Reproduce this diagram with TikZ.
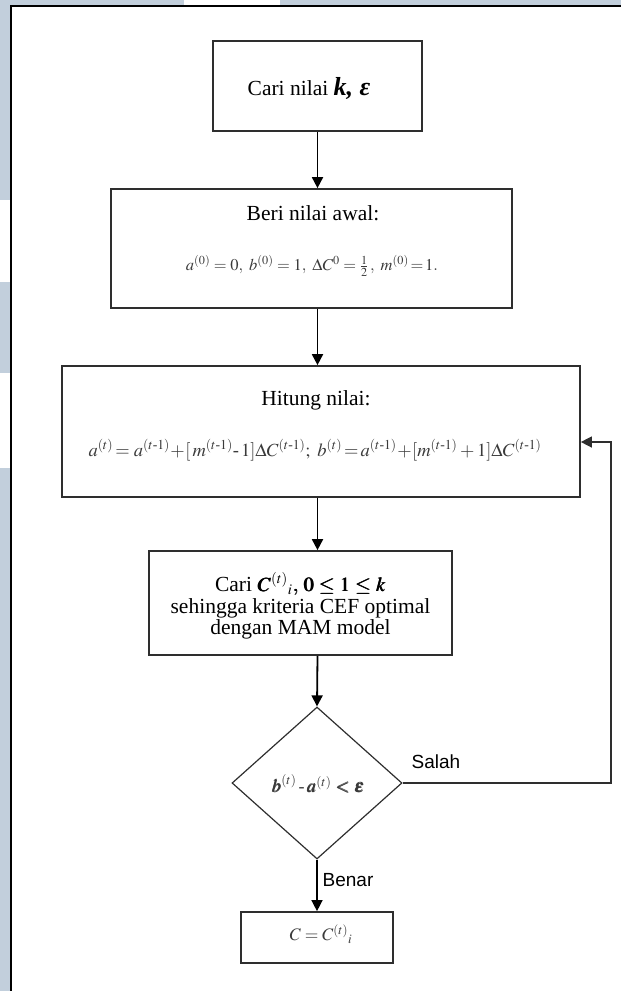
\documentclass[tikz,border=0pt]{standalone}
\usepackage{amsmath}
\usepackage{mathptmx}
\usepackage{bm}
\usepackage{fontspec}
\setmainfont{Liberation Serif}
\newfontfamily\sansf{Liberation Sans}
\usetikzlibrary{arrows.meta,shapes.geometric}
\definecolor{bgblue}{HTML}{C2CFDC}
\definecolor{boxline}{HTML}{2E2E2E}
\definecolor{formula}{HTML}{3A3A3A}
\tikzset{
  box/.style={draw=boxline, line width=1.7pt, rectangle, inner sep=0pt},
  arr/.style={draw=black, line width=1.8pt, -{Triangle[length=11pt,width=11pt]}},
  fbline/.style={draw=boxline, line width=1.4pt, -{Triangle[length=11pt,width=11pt]}},
  txt/.style={inner sep=0pt, font=\fontsize{21.5}{23}\selectfont, align=center},
  frm/.style={inner sep=0pt, text=formula, font=\fontsize{15}{17}\selectfont},
  lab/.style={inner sep=0pt, font=\sansf\fontsize{19}{21}\selectfont},
}
\begin{document}
\begin{tikzpicture}[x=1pt,y=-1pt]
\useasboundingbox (0,0) rectangle (621,991);
% background strips
\fill[bgblue] (0,0) rectangle (10,991);
\fill[bgblue] (0,0) rectangle (621,5);
\fill[white] (184,0) rectangle (280,5);
\fill[white] (0,200) rectangle (10,282);
\fill[white] (0,373) rectangle (10,468);
\draw[line width=1.8pt] (11,991) -- (11,6) -- (621,6);

% boxes
\node[box, minimum width=209pt, minimum height=90pt] (b1) at (317.5,86) {};
\node[txt] (t1) at (309,88) {Cari nilai {\fontsize{26}{26}\selectfont\bfseries\itshape k, ε}};

\node[box, minimum width=401pt, minimum height=119pt] (b2) at (311.5,248.5) {};
\node[txt] (t2a) at (313,213) {Beri nilai awal:};
\node[frm, font=\fontsize{16.5}{18}\selectfont] (t2b) at (312,266) {$a^{(0)} = 0,\ b^{(0)} = 1,\ \Delta C^{0} = \frac{1}{2}\,,\ m^{(0)}\!=\!1.$};

\node[box, minimum width=518pt, minimum height=131pt] (b3) at (321,431.5) {};
\node[txt] (t3a) at (316,400) {Hitung nilai:};
\node[frm, font=\fontsize{18.5}{20}\selectfont] (t3b) at (315,450) {$a^{(t)}\!= a^{(t\text{-}1)}\!+\![\,m^{(t\text{-}1)}\text{-}\,1]\Delta C^{(t\text{-}1)};\ b^{(t)}\!=\!a^{(t\text{-}1)}\!+\![m^{(t\text{-}1)}+1]\Delta C^{(t\text{-}1)}$};

\node[box, minimum width=303pt, minimum height=104pt] (b4) at (300.5,603) {};
\node[txt, font=\fontsize{21.5}{21.5}\selectfont] (t4) at (300.5,606) {Cari {\fontsize{20}{20}\selectfont$\bm{C^{(t)}{}_{i},\, 0 \le 1 \le k}$}\\sehingga kriteria CEF optimal\\dengan MAM model};

\node[draw=boxline, line width=1.2pt, diamond, minimum width=170pt, minimum height=152pt, inner sep=0pt] (dia) at (317,783) {};
\node[frm, font=\fontsize{18}{18}\selectfont] (tdia) at (318,784) {$\bm{b^{(t)} \,\text{-}\, a^{(t)} < \varepsilon}$};

\node[box, minimum width=152pt, minimum height=51pt] (b5) at (317,937.5) {};
\node[frm, font=\fontsize{17.5}{19}\selectfont] (t5) at (321,934) {$C = C^{(t)}{}_{i}$};

% connectors
\draw[arr] (b1.south) -- (b1.south |- b2.north);
\draw[arr] (b1.south |- b2.south) -- (b1.south |- b3.north);
\draw[arr] (b1.south |- b3.south) -- (b1.south |- b4.north);
\draw[arr] (b1.south |- b4.south) -- (dia.north);
\draw[arr, line width=1.4pt] (dia.south) -- (b5.north);
\coordinate (fbc) at (611,442);
\draw[fbline] (dia.east) -| (fbc) -- (b3.east |- fbc);

\node[lab] (salah) at (436,762) {Salah};
\node[lab] (benar) at (348,880) {Benar};
\end{tikzpicture}
\end{document}
